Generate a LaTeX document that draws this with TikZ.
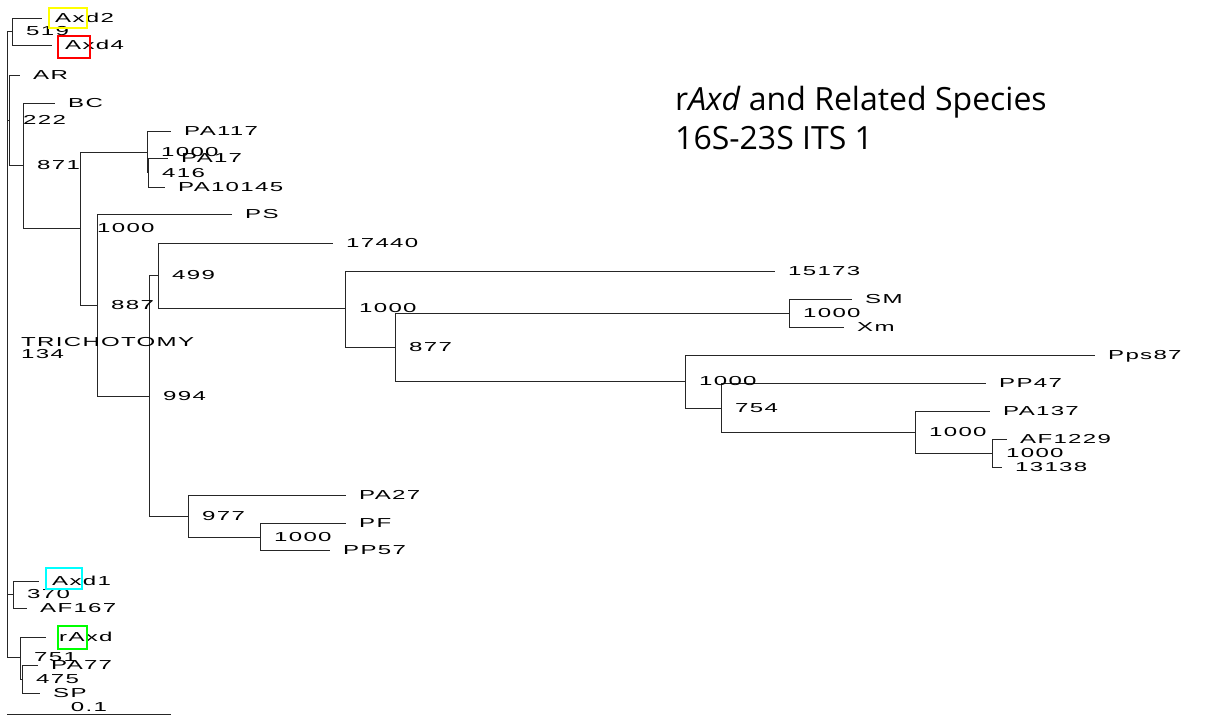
\documentclass[tikz,border=0pt]{standalone}
\usepackage{fontspec}
\setmainfont{Liberation Sans}
\newfontfamily\treefont[FakeStretch=1.85,LetterSpace=10]{Liberation Sans}
\newfontfamily\titlefont{Open Sans}
\definecolor{boxyellow}{RGB}{255,255,0}
\definecolor{boxred}{RGB}{255,0,0}
\definecolor{boxcyan}{RGB}{0,255,255}
\definecolor{boxgreen}{RGB}{0,255,0}

\begin{document}
\begin{tikzpicture}[x=1pt,y=-1pt,
    branch/.style={line width=0.8pt,black!85},
    leaf/.style={anchor=west,inner xsep=13pt,inner ysep=0pt,
        font=\treefont\fontsize{13}{13}\selectfont,text height=9.4pt,text depth=0pt},
    boot/.style={anchor=west,inner sep=0pt,xshift=14pt,
        font=\treefont\fontsize{13}{13}\selectfont,text height=9.4pt,text depth=0pt},
    hlbox/.style={line width=1.1pt}]
    \useasboundingbox (0,0) rectangle (1208,717);

    % 内部节点
    \coordinate (root) at (7,344);
    \coordinate (cAxd24) at (12,31);
    \coordinate (cAR) at (9,120);
    \coordinate (cBC) at (23,165);
    \coordinate (cPAPS) at (80,228);
    \coordinate (cPA) at (147,152);
    \coordinate (cPA17) at (148,172);
    \coordinate (cPS) at (97,305);
    \coordinate (c994) at (149,396);
    \coordinate (c499) at (158,275);
    \coordinate (c15173) at (345,308);
    \coordinate (c877) at (395,347);
    \coordinate (cSM) at (789,313);
    \coordinate (cPps) at (685,381);
    \coordinate (c754) at (721,408);
    \coordinate (cPA137) at (915,432);
    \coordinate (cAF) at (992,453);
    \coordinate (c977) at (188,516);
    \coordinate (cPF) at (260,537);
    \coordinate (cAxd1) at (13,594);
    \coordinate (crAxd) at (20,657);
    \coordinate (cPA77) at (22,679);

    % 叶节点
    \node[leaf] (axd2) at (42,18) {Axd2};
    \node[leaf] (axd4) at (52,45) {Axd4};
    \node[leaf] (ar) at (20,75) {AR};
    \node[leaf] (bc) at (55,103) {BC};
    \node[leaf] (pa117) at (171,131) {PA117};
    \node[leaf] (pa17) at (168,158) {PA17};
    \node[leaf] (pa10145) at (165,187) {PA10145};
    \node[leaf] (ps) at (232,214) {PS};
    \node[leaf] (s17440) at (333,243) {17440};
    \node[leaf] (s15173) at (775,271) {15173};
    \node[leaf] (sm) at (852,299) {SM};
    \node[leaf] (xm) at (844,327) {Xm};
    \node[leaf] (pps87) at (1095,355) {Pps87};
    \node[leaf] (pp47) at (986,383) {PP47};
    \node[leaf] (pa137) at (990,411) {PA137};
    \node[leaf] (af1229) at (1007,439) {AF1229};
    \node[leaf] (s13138) at (1002,467) {13138};
    \node[leaf] (pa27) at (346,495) {PA27};
    \node[leaf] (pf) at (346,523) {PF};
    \node[leaf] (pp57) at (330,550) {PP57};
    \node[leaf] (axd1) at (39,581) {Axd1};
    \node[leaf] (af167) at (27,608) {AF167};
    \node[leaf] (raxd) at (46,637) {rAxd};
    \node[leaf] (pa77) at (38,665) {PA77};
    \node[leaf] (sp) at (40,693) {SP};

    % 分支
    \foreach \a/\b in {root/cAxd24, root/cAR, root/cAxd1, root/crAxd,
        cAxd24/axd2, cAxd24/axd4, cAR/ar, cAR/cBC, cBC/bc, cBC/cPAPS,
        cPAPS/cPA, cPAPS/cPS, cPA/pa117, cPA/cPA17, cPA17/pa17, cPA17/pa10145,
        cPS/ps, cPS/c994, c994/c499, c994/c977, c499/s17440, c499/c15173,
        c15173/s15173, c15173/c877, c877/cSM, c877/cPps, cSM/sm, cSM/xm,
        cPps/pps87, cPps/c754, c754/pp47, c754/cPA137, cPA137/pa137, cPA137/cAF,
        cAF/af1229, cAF/s13138, c977/pa27, c977/cPF, cPF/pf, cPF/pp57,
        cAxd1/axd1, cAxd1/af167, crAxd/raxd, crAxd/cPA77, cPA77/pa77, cPA77/sp}
        \draw[branch] (\a) |- (\b);

    % 自展值
    \node[boot] (bAxd24) at (cAxd24) {519};
    \node[boot] (bAR) at (cAR) {222};
    \node[boot] (bBC) at (cBC) {871};
    \node[boot,xshift=3pt] (bPAPS) at (cPAPS) {1000};
    \node[boot] (bPA) at (cPA) {1000};
    \node[boot,yshift=-1pt] (bPA17) at (cPA17) {416};
    \node[boot] (bPS) at (cPS) {887};
    \node[boot] (b994) at (c994) {994};
    \node[boot] (b499) at (c499) {499};
    \node[boot] (b15173) at (c15173) {1000};
    \node[boot] (b877) at (c877) {877};
    \node[boot] (bSM) at (cSM) {1000};
    \node[boot] (bPps) at (cPps) {1000};
    \node[boot] (b754) at (c754) {754};
    \node[boot] (bPA137) at (cPA137) {1000};
    \node[boot] (bAF) at (cAF) {1000};
    \node[boot] (b977) at (c977) {977};
    \node[boot] (bPF) at (cPF) {1000};
    \node[boot] (bAxd1) at (cAxd1) {370};
    \node[boot] (brAxd) at (crAxd) {751};
    \node[boot] (bPA77) at (cPA77) {475};
    \node[boot,yshift=2pt] (broot) at (root) {TRICHOTOMY};
    \node[boot,yshift=-10pt] (broot2) at (root) {134};

    % 标记框
    \draw[hlbox,boxyellow] (49,8) rectangle (87,28);
    \draw[hlbox,boxred] (58,36) rectangle (90,58);
    \draw[hlbox,boxcyan] (46,568) rectangle (82,589);
    \draw[hlbox,boxgreen] (58,626) rectangle (87,649);

    % 标尺
    \coordinate (sbL) at (7,714);
    \coordinate (sbR) at (171,714);
    \draw[branch] (sbL) -- (sbR);
    \path (sbL) -- (sbR) node[midway,above,inner ysep=2pt,
        font=\treefont\fontsize{13}{13}\selectfont] (sblab) {0.1};

    % 标题
    \node[anchor=west,align=left,inner sep=0pt,font=\titlefont\fontsize{32}{39}\selectfont]
        (title) at (675,118) {r\textit{Axd} and Related Species\\16S-23S ITS 1};
\end{tikzpicture}
\end{document}
